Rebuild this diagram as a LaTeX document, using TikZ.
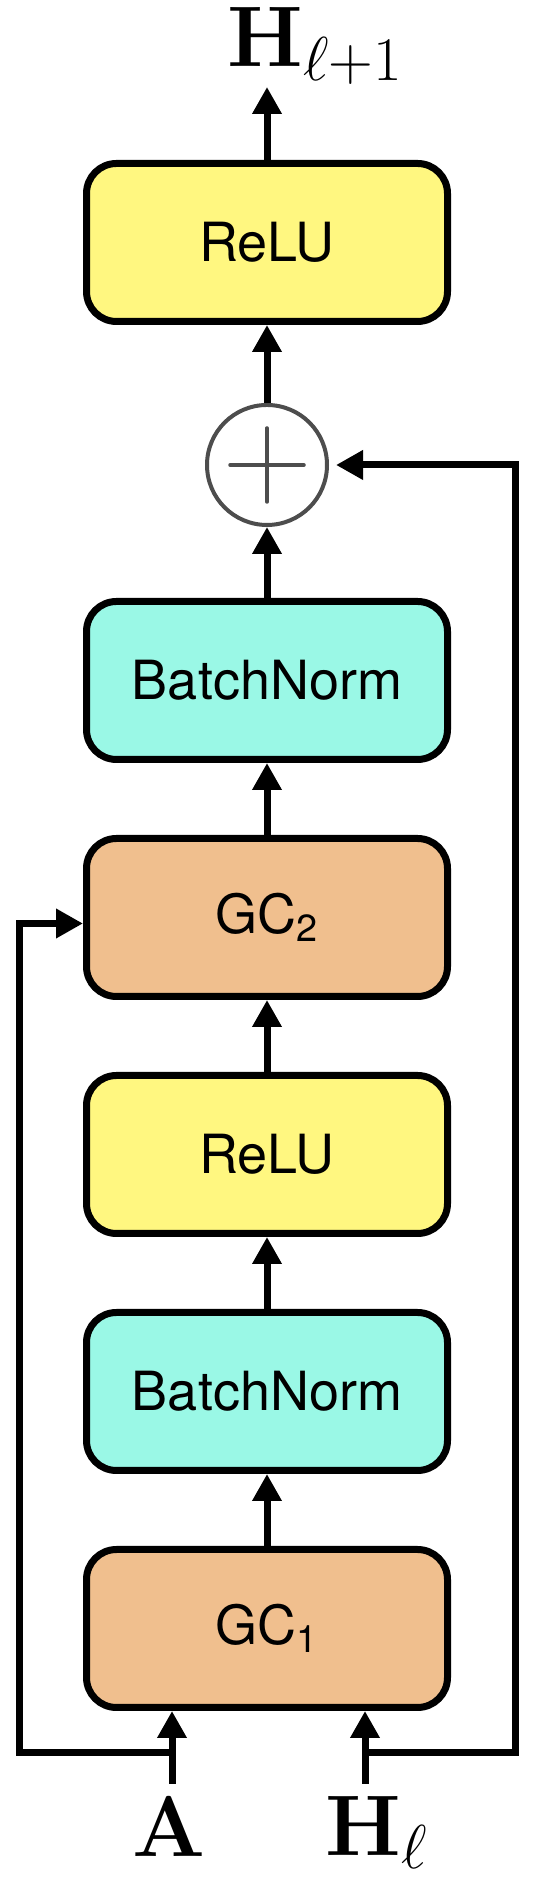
\RequirePackage{fix-cm}
\documentclass[tikz,border=0pt]{standalone}
\usepackage{fontspec}
\setsansfont{TeX Gyre Heros}
\usetikzlibrary{positioning, arrows.meta}
\DeclareMathSizes{43}{43}{31}{22}
\definecolor{reluyellow}{HTML}{FFF780}
\definecolor{normcyan}{HTML}{9AF8E6}
\definecolor{gcorange}{HTML}{F0BF8E}
\definecolor{ringgray}{HTML}{4D4D4D}
\tikzstyle{layer} = [rectangle, rounded corners=15pt, minimum width=180.5pt, minimum height=79pt, text centered, draw=black, line width=3.5pt, font=\sffamily\fontsize{27}{32}\selectfont]
\tikzstyle{relubox} = [layer, fill=reluyellow]
\tikzstyle{normbox} = [layer, fill=normcyan]
\tikzstyle{gcbox} = [layer, fill=gcorange]
\tikzstyle{sumnode} = [circle, minimum size=60pt, inner sep=0pt, draw=ringgray, line width=2pt, fill=white]
\tikzstyle{plus} = [draw=ringgray, line width=1.75pt, line cap=round]
\tikzstyle{arrow} = [line width=3.5pt, ->, >={Triangle[length=13.5pt, width=14pt]}]
\tikzstyle{mathlabel} = [inner sep=0pt, font=\fontsize{43}{50}\selectfont]

\begin{document}
\begin{tikzpicture}[node distance=118.5pt]
        \useasboundingbox (0,0) rectangle (268pt,942pt);
        \node (gc1) [gcbox] at (133.5pt,127.75pt) {GC\textsubscript{1}};
        \node (bn1) [normbox, above of=gc1] {BatchNorm};
        \node (relu1) [relubox, above of=bn1] {ReLU};
        \node (gc2) [gcbox, above of=relu1] {GC\textsubscript{2}};
        \node (bn2) [normbox, above of=gc2] {BatchNorm};
        \node (sum) [sumnode, above of=bn2, node distance=107.75pt] {};
        \node (relu2) [relubox, above of=sum, node distance=111.25pt] {ReLU};
        \draw [plus] ([xshift=-18.5pt]sum.center) -- ([xshift=18.5pt]sum.center);
        \draw [plus] ([yshift=-18.5pt]sum.center) -- ([yshift=18.5pt]sum.center);

        % inputs and output
        \coordinate [below=36.5pt of gc1.south, xshift=-47.5pt] (ain);
        \coordinate [below=36.5pt of gc1.south, xshift=49pt] (hin);
        \coordinate [above=36.5pt of relu2.north] (hout);
        \coordinate (lrail) at ([xshift=-32pt]gc1.west);
        \coordinate (rrail) at ([xshift=32pt]gc1.east);
        \node (alab) [mathlabel, below=6pt of ain, xshift=-1.5pt] {$\textbf{A}$};
        \node (hlab) [mathlabel, below=6pt of hin, xshift=5.7pt] {$\textbf{H}_\ell$};
        \node (hnext) [mathlabel, above=10pt of hout, anchor=base, xshift=24pt] {$\textbf{H}_{\ell+1}$};

        % Arrows for forward path
        \draw [arrow] (ain) -- (ain |- gc1.south);
        \draw [arrow] (hin) -- (hin |- gc1.south);
        \draw [arrow] (gc1.north) -- (bn1.south);
        \draw [arrow] (bn1.north) -- (relu1.south);
        \draw [arrow] (relu1.north) -- (gc2.south);
        \draw [arrow] (gc2.north) -- (bn2.south);
        \draw [arrow] (bn2.north) -- (sum.south);
        \draw [arrow] (sum.north) -- (relu2.south);
        \draw [arrow] (relu2.north) -- (hout);
        % Skip connections
        \draw [arrow] ([yshift=15.5pt]ain) -| (lrail) |- ([yshift=-3pt]gc2.west);
        \draw [arrow, shorten >=3.5pt] ([yshift=15.5pt]hin) -| (rrail) |- (sum.east);
    \end{tikzpicture}
\end{document}
